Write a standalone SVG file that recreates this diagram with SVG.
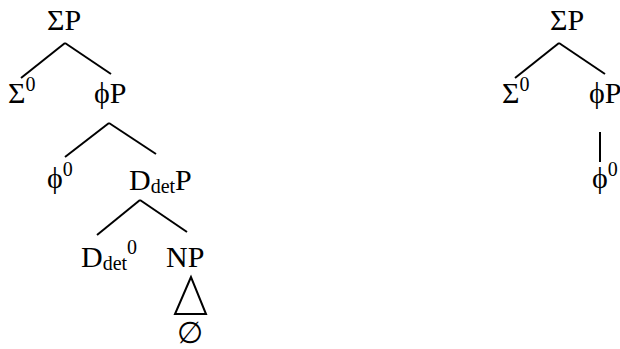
<svg xmlns="http://www.w3.org/2000/svg" width="620" height="349" viewBox="0 0 620 349" font-family="Times New Roman, Liberation Serif, serif" font-size="30">
<style>
.s{font-size:20px}
line,polygon{stroke:#000;stroke-width:2;fill:none}
</style>
<g id="connectors">
<line x1="65" y1="43" x2="21" y2="78"/>
<line x1="65" y1="43" x2="111" y2="74"/>
<line x1="109" y1="123" x2="65" y2="157"/>
<line x1="109" y1="123" x2="156" y2="154"/>
<line x1="140" y1="200" x2="97" y2="235"/>
<line x1="140" y1="200" x2="187" y2="232"/>
<polygon points="191,277 175,314 206,314"/>
<line x1="559" y1="43" x2="515" y2="78"/>
<line x1="559" y1="43" x2="605" y2="74"/>
<line x1="600" y1="132" x2="600" y2="162"/>
</g>
<g id="n1"><text x="47" y="30">ΣP</text></g>
<g id="n2"><text x="8" y="103">Σ<tspan class="s" dy="-12">0</tspan></text></g>
<g id="n3"><text x="94" y="103">ϕP</text></g>
<g id="n4"><text x="47" y="188">ϕ<tspan class="s" dy="-12">0</tspan></text></g>
<g id="n5"><text x="129" y="190">D<tspan class="s" dy="3">det</tspan><tspan dy="-3">P</tspan></text></g>
<g id="n6"><text x="81" y="267">D<tspan class="s" dy="3">det</tspan><tspan class="s" dy="-16">0</tspan></text></g>
<g id="n7"><text x="166" y="267">NP</text></g>
<g id="n8"><text x="190" y="343" text-anchor="middle">∅</text></g>
<g id="n9"><text x="550" y="30">ΣP</text></g>
<g id="n10"><text x="502" y="103">Σ<tspan class="s" dy="-12">0</tspan></text></g>
<g id="n11"><text x="589" y="103">ϕP</text></g>
<g id="n12"><text x="592" y="188">ϕ<tspan class="s" dy="-12">0</tspan></text></g>
</svg>
